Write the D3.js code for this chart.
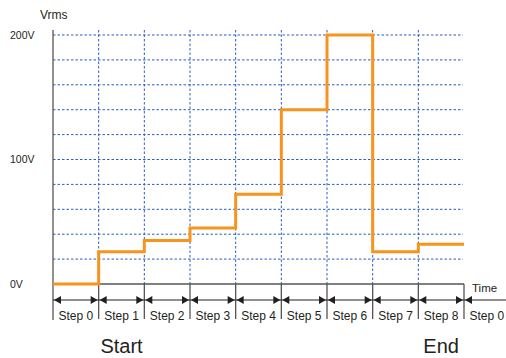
<!DOCTYPE html>
<html>
<head>
<meta charset="utf-8">
<script src="https://cdn.jsdelivr.net/npm/d3@7"></script>
<style>
  body { margin: 0; background: #fff; }
  svg text { font-family: "Liberation Sans", Arial, sans-serif; fill: #231f20; }
</style>
</head>
<body>
<svg id="chart" width="506" height="358"></svg>
<script>
// step labels along the time axis (last one is the wrap-around)
const steps = ["Step 0", "Step 1", "Step 2", "Step 3", "Step 4", "Step 5", "Step 6", "Step 7", "Step 8", "Step 0"];
// voltage held during each step (Vrms)
const voltages = [0, 26, 35, 45, 72, 140, 200, 26, 32];
const yTicks = [0, 100, 200];
const yTickLabels = ["0V", "100V", "200V"];
const gridValues = d3.range(20, 201, 20);

const svg = d3.select("#chart");

const x = d3.scaleLinear().domain([0, 9]).range([53, 464]);
const y = d3.scaleLinear().domain([0, 200]).range([284, 35]);

const axisColor = "#555";
const gridColor = "#2a5fc0";

// horizontal grid
svg.append("g").selectAll("line")
  .data(gridValues)
  .join("line")
  .attr("x1", x(0)).attr("x2", x(9) - 1)
  .attr("y1", d => y(d)).attr("y2", d => y(d))
  .attr("stroke", gridColor)
  .attr("stroke-width", 1)
  .attr("stroke-dasharray", "2.5,2");

// vertical grid
svg.append("g").selectAll("line")
  .data(d3.range(1, 9))
  .join("line")
  .attr("x1", d => x(d)).attr("x2", d => x(d))
  .attr("y1", 30).attr("y2", y(0))
  .attr("stroke", gridColor)
  .attr("stroke-width", 1)
  .attr("stroke-dasharray", "2.5,2");

// axes
svg.append("line")
  .attr("x1", x(0)).attr("x2", x(0))
  .attr("y1", 30).attr("y2", 320)
  .attr("stroke", axisColor).attr("stroke-width", 1.3);
svg.append("line")
  .attr("x1", x(0)).attr("x2", x(9))
  .attr("y1", y(0)).attr("y2", y(0))
  .attr("stroke", axisColor).attr("stroke-width", 1.3);

// step boundary ticks below the axis
svg.append("g").selectAll("line")
  .data(d3.range(1, 10))
  .join("line")
  .attr("x1", d => x(d)).attr("x2", d => x(d))
  .attr("y1", y(0)).attr("y2", 319)
  .attr("stroke", axisColor).attr("stroke-width", 1.3);

// double-headed arrows per step
const arrowY = 300;
svg.append("line")
  .attr("x1", x(0)).attr("x2", 506)
  .attr("y1", arrowY).attr("y2", arrowY)
  .attr("stroke", "#231f20").attr("stroke-width", 1.2);

const heads = [];
d3.range(0, 10).forEach(i => {
  heads.push({ x: x(i) + 1, dir: 1 });
  if (i < 9) heads.push({ x: x(i + 1) - 1, dir: -1 });
});
svg.append("g").selectAll("path")
  .data(heads)
  .join("path")
  .attr("d", d => `M${d.x},${arrowY} l${d.dir * 7},-4 l0,8 z`)
  .attr("fill", "#231f20");

// step labels
svg.append("g").selectAll("text")
  .data(steps)
  .join("text")
  .attr("x", (d, i) => x(i + 0.5))
  .attr("y", 320)
  .attr("text-anchor", "middle")
  .attr("font-size", 12)
  .text(d => d);

// y tick labels
svg.append("g").selectAll("text")
  .data(yTicks)
  .join("text")
  .attr("x", 10)
  .attr("y", d => y(d) + 3.5)
  .attr("font-size", 10.5)
  .text((d, i) => yTickLabels[i]);

svg.append("text").attr("x", 40).attr("y", 19).attr("font-size", 12).text("Vrms");
svg.append("text").attr("x", 472).attr("y", 292).attr("font-size", 11.5).text("Time");

svg.append("text").attr("x", x(1.5)).attr("y", 353).attr("text-anchor", "middle")
  .attr("font-size", 20).text("Start");
svg.append("text").attr("x", x(8.5)).attr("y", 353).attr("text-anchor", "middle")
  .attr("font-size", 20).text("End");

// voltage step line
const pts = voltages.map((v, i) => [i, v]);
pts.push([9, voltages[voltages.length - 1]]);
const line = d3.line()
  .x(d => x(d[0]))
  .y(d => y(d[1]))
  .curve(d3.curveStepAfter);

svg.append("path")
  .datum(pts)
  .attr("d", line)
  .attr("fill", "none")
  .attr("stroke", "#f7941d")
  .attr("stroke-width", 3);
</script>
</body>
</html>
